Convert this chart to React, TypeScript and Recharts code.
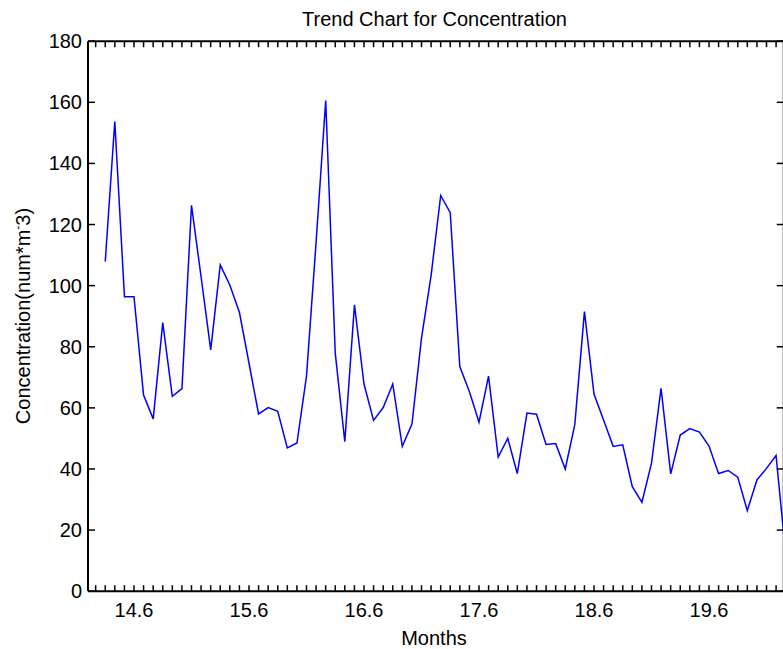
import React from 'react';
import { LineChart, Line, XAxis, YAxis, Customized } from 'recharts';

// ---- data ----
const months = [
  14.35, 14.433, 14.517, 14.6, 14.683, 14.767, 14.85, 14.933, 15.017, 15.1, 15.183, 15.267,
  15.35, 15.433, 15.517, 15.6, 15.683, 15.767, 15.85, 15.933, 16.017, 16.1, 16.183, 16.267,
  16.35, 16.433, 16.517, 16.6, 16.683, 16.767, 16.85, 16.933, 17.017, 17.1, 17.183, 17.267,
  17.35, 17.433, 17.517, 17.6, 17.683, 17.767, 17.85, 17.933, 18.017, 18.1, 18.183, 18.267,
  18.35, 18.433, 18.517, 18.6, 18.683, 18.767, 18.85, 18.933, 19.017, 19.1, 19.183, 19.267,
  19.35, 19.433, 19.517, 19.6, 19.683, 19.767, 19.85, 19.933, 20.017, 20.1, 20.183, 20.267,
];

const concentration = [
  107.9, 153.7, 96.4, 96.4, 64.2, 56.4, 87.9, 63.8, 66.3, 126.3, 103.0, 79.0,
  106.8, 100.2, 91.2, 74.6, 58.0, 60.1, 58.9, 46.9, 48.5, 70.4, 114.0, 160.6,
  77.9, 48.9, 93.7, 67.8, 55.9, 60.1, 67.8, 47.4, 54.7, 82.8, 103.2, 129.5,
  123.9, 73.5, 65.3, 55.3, 70.4, 43.9, 50.0, 38.5, 58.3, 57.9, 48.0, 48.3,
  40.0, 54.5, 91.5, 64.5, 56.0, 47.4, 47.9, 34.2, 29.1, 41.9, 66.4, 38.4,
  51.1, 53.2, 52.1, 47.5, 38.5, 39.5, 37.3, 26.4, 36.4, 40.2, 44.4, 12.0,
];

const majorXTicks = [14.6, 15.6, 16.6, 17.6, 18.6, 19.6];
const yTicks = [0, 20, 40, 60, 80, 100, 120, 140, 160, 180];
const xDomain: [number, number] = [14.2, 20.25];
const yDomain: [number, number] = [0, 180];

const titleText = 'Trend Chart for Concentration';
const xLabelText = 'Months';
const yLabelMain = 'Concentration(num*m';
const yLabelSup = '-';
const yLabelEnd = '3)';

const data = months.map((m, i) => ({ month: m, value: concentration[i] }));

// monthly minor ticks around the labelled ones
const monthTicks: number[] = [];
for (let k = -4; k <= 67; k++) monthTicks.push(majorXTicks[0] + k / 12);

const FONT = '"Liberation Sans", Arial, Helvetica, sans-serif';
const FS = 20;
const TICK = 6;
const SW = 1.5;

const majorLabel = (v: number) => {
  const m = majorXTicks.find((t) => Math.abs(t - v) < 1e-6);
  return m === undefined ? null : m.toFixed(1);
};

const BottomTick = (p: any) => {
  const lab = majorLabel(p.payload.value);
  return (
    <g>
      <line x1={p.x} y1={p.y} x2={p.x} y2={p.y - TICK} stroke="#000" strokeWidth={SW} />
      {lab && (
        <text x={p.x} y={p.y + 26} textAnchor="middle" fontFamily={FONT} fontSize={FS} fill="#000">
          {lab}
        </text>
      )}
    </g>
  );
};

const TopTick = (p: any) => (
  <line x1={p.x} y1={p.y} x2={p.x} y2={p.y + TICK} stroke="#000" strokeWidth={SW} />
);

const LeftTick = (p: any) => (
  <g>
    <line x1={p.x} y1={p.y} x2={p.x + TICK + 1} y2={p.y} stroke="#000" strokeWidth={SW} />
    <text x={p.x - 6} y={p.y + 7} textAnchor="end" fontFamily={FONT} fontSize={FS} fill="#000">
      {p.payload.value}
    </text>
  </g>
);

const RightTick = (p: any) => (
  <line x1={p.x} y1={p.y} x2={p.x - TICK - 1} y2={p.y} stroke="#000" strokeWidth={SW} />
);

const ChartTexts = () => (
  <g>
    <text x={434.5} y={26} textAnchor="middle" fontFamily={FONT} fontSize={FS} fill="#000">
      {titleText}
    </text>
    <text x={434} y={645} textAnchor="middle" fontFamily={FONT} fontSize={FS} fill="#000">
      {xLabelText}
    </text>
    <text
      transform="translate(30,316) rotate(-90)"
      textAnchor="middle"
      fontFamily={FONT}
      fontSize={FS}
      fill="#000"
    >
      {yLabelMain}
      <tspan dy={-8} fontSize={12}>{yLabelSup}</tspan>
      <tspan dy={8}>{yLabelEnd}</tspan>
    </text>
  </g>
);

const W = 800;
const H = 649;
const PLOT = { left: 88, right: 783.75, top: 41.2, bottom: 591.2 };
const AX = { bottomH: 30, topH: 10, leftW: 60, rightW: 10 };

export default function App() {
  return (
    <div
      style={{
        position: 'fixed',
        left: 0,
        top: 0,
        width: 783,
        height: 649,
        overflow: 'hidden',
        background: '#fff',
      }}
    >
      <LineChart
        width={W}
        height={H}
        data={data}
        margin={{
          top: PLOT.top - AX.topH,
          right: W - PLOT.right - AX.rightW,
          bottom: H - PLOT.bottom - AX.bottomH,
          left: PLOT.left - AX.leftW,
        }}
      >
        <XAxis
          xAxisId="bottom"
          dataKey="month"
          type="number"
          domain={xDomain}
          allowDataOverflow
          ticks={monthTicks}
          interval={0}
          height={AX.bottomH}
          tickSize={0}
          tickMargin={0}
          tickLine={false}
          axisLine={{ stroke: '#000', strokeWidth: 2 }}
          tick={BottomTick}
        />
        <XAxis
          xAxisId="top"
          orientation="top"
          dataKey="month"
          type="number"
          domain={xDomain}
          allowDataOverflow
          ticks={monthTicks}
          interval={0}
          height={AX.topH}
          tickSize={0}
          tickMargin={0}
          tickLine={false}
          axisLine={{ stroke: '#000', strokeWidth: 2 }}
          tick={TopTick}
        />
        <YAxis
          yAxisId="left"
          type="number"
          domain={yDomain}
          allowDataOverflow
          ticks={yTicks}
          interval={0}
          width={AX.leftW}
          tickSize={0}
          tickMargin={0}
          tickLine={false}
          axisLine={{ stroke: '#000', strokeWidth: 2 }}
          tick={LeftTick}
        />
        <YAxis
          yAxisId="right"
          orientation="right"
          type="number"
          domain={yDomain}
          allowDataOverflow
          ticks={yTicks}
          interval={0}
          width={AX.rightW}
          tickSize={0}
          tickMargin={0}
          tickLine={false}
          axisLine={{ stroke: '#000', strokeWidth: 2 }}
          tick={RightTick}
        />
        <Line
          xAxisId="bottom"
          yAxisId="left"
          type="linear"
          dataKey="value"
          stroke="#0000FF"
          strokeWidth={1.5}
          dot={false}
          activeDot={false}
          isAnimationActive={false}
        />
        <Customized component={<ChartTexts />} />
      </LineChart>
    </div>
  );
}
